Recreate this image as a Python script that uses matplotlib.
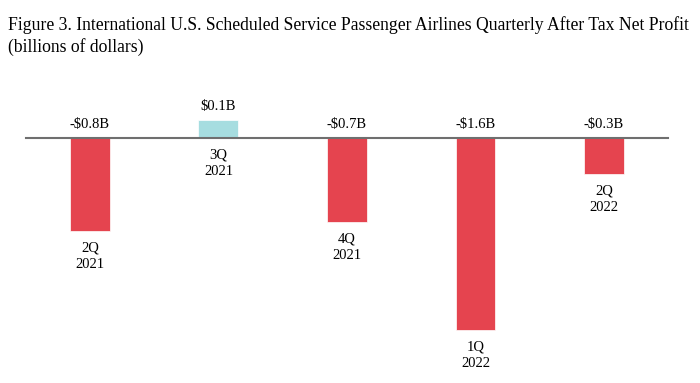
"""International U.S. scheduled passenger airlines - quarterly after tax net profit"""

import matplotlib.pyplot as plt

plt.rcParams["font.family"] = ["Liberation Serif", "DejaVu Serif"]

# Data (billions of dollars)
quarters = ["2Q\n2021", "3Q\n2021", "4Q\n2021", "1Q\n2022", "2Q\n2022"]
profit = [-0.775, 0.15, -0.70, -1.60, -0.30]
value_labels = ["-$0.8B", "$0.1B", "-$0.7B", "-$1.6B", "-$0.3B"]

red = "#E5444F"
teal = "#A6DDE0"
colors = [teal if v > 0 else red for v in profit]

fig = plt.figure(figsize=(7, 3.83), dpi=100)
ax = fig.add_axes([0, 0, 1, 1])

x = list(range(len(quarters)))
ax.bar(x, profit, width=0.311, color=colors, edgecolor="white", linewidth=0.5, zorder=2)
ax.plot([-0.5, 4.5], [0, 0], color="#6f6f6f", linewidth=1.5, zorder=3)

fs = 10.5
for xi, v, lab, q in zip(x, profit, value_labels, quarters):
    top = max(v, 0)
    bottom = min(v, 0)
    ax.annotate(lab, (xi, top), xytext=(0, 4.5), textcoords="offset points",
                ha="center", va="bottom", fontsize=fs)
    ax.annotate(q, (xi, bottom), xytext=(0, -7.5), textcoords="offset points",
                ha="center", va="top", fontsize=fs, linespacing=1.4)

ax.set_xlim(-0.70, 4.747)
ax.set_ylim(-2.044, 1.1475)
ax.axis("off")

fig.text(0.011, 0.958,
         "Figure 3. International U.S. Scheduled Service Passenger Airlines Quarterly After Tax Net Profit\n"
         "(billions of dollars)",
         ha="left", va="top", fontsize=12.7, linespacing=1.3)

fig.savefig("out.png", dpi=100)
